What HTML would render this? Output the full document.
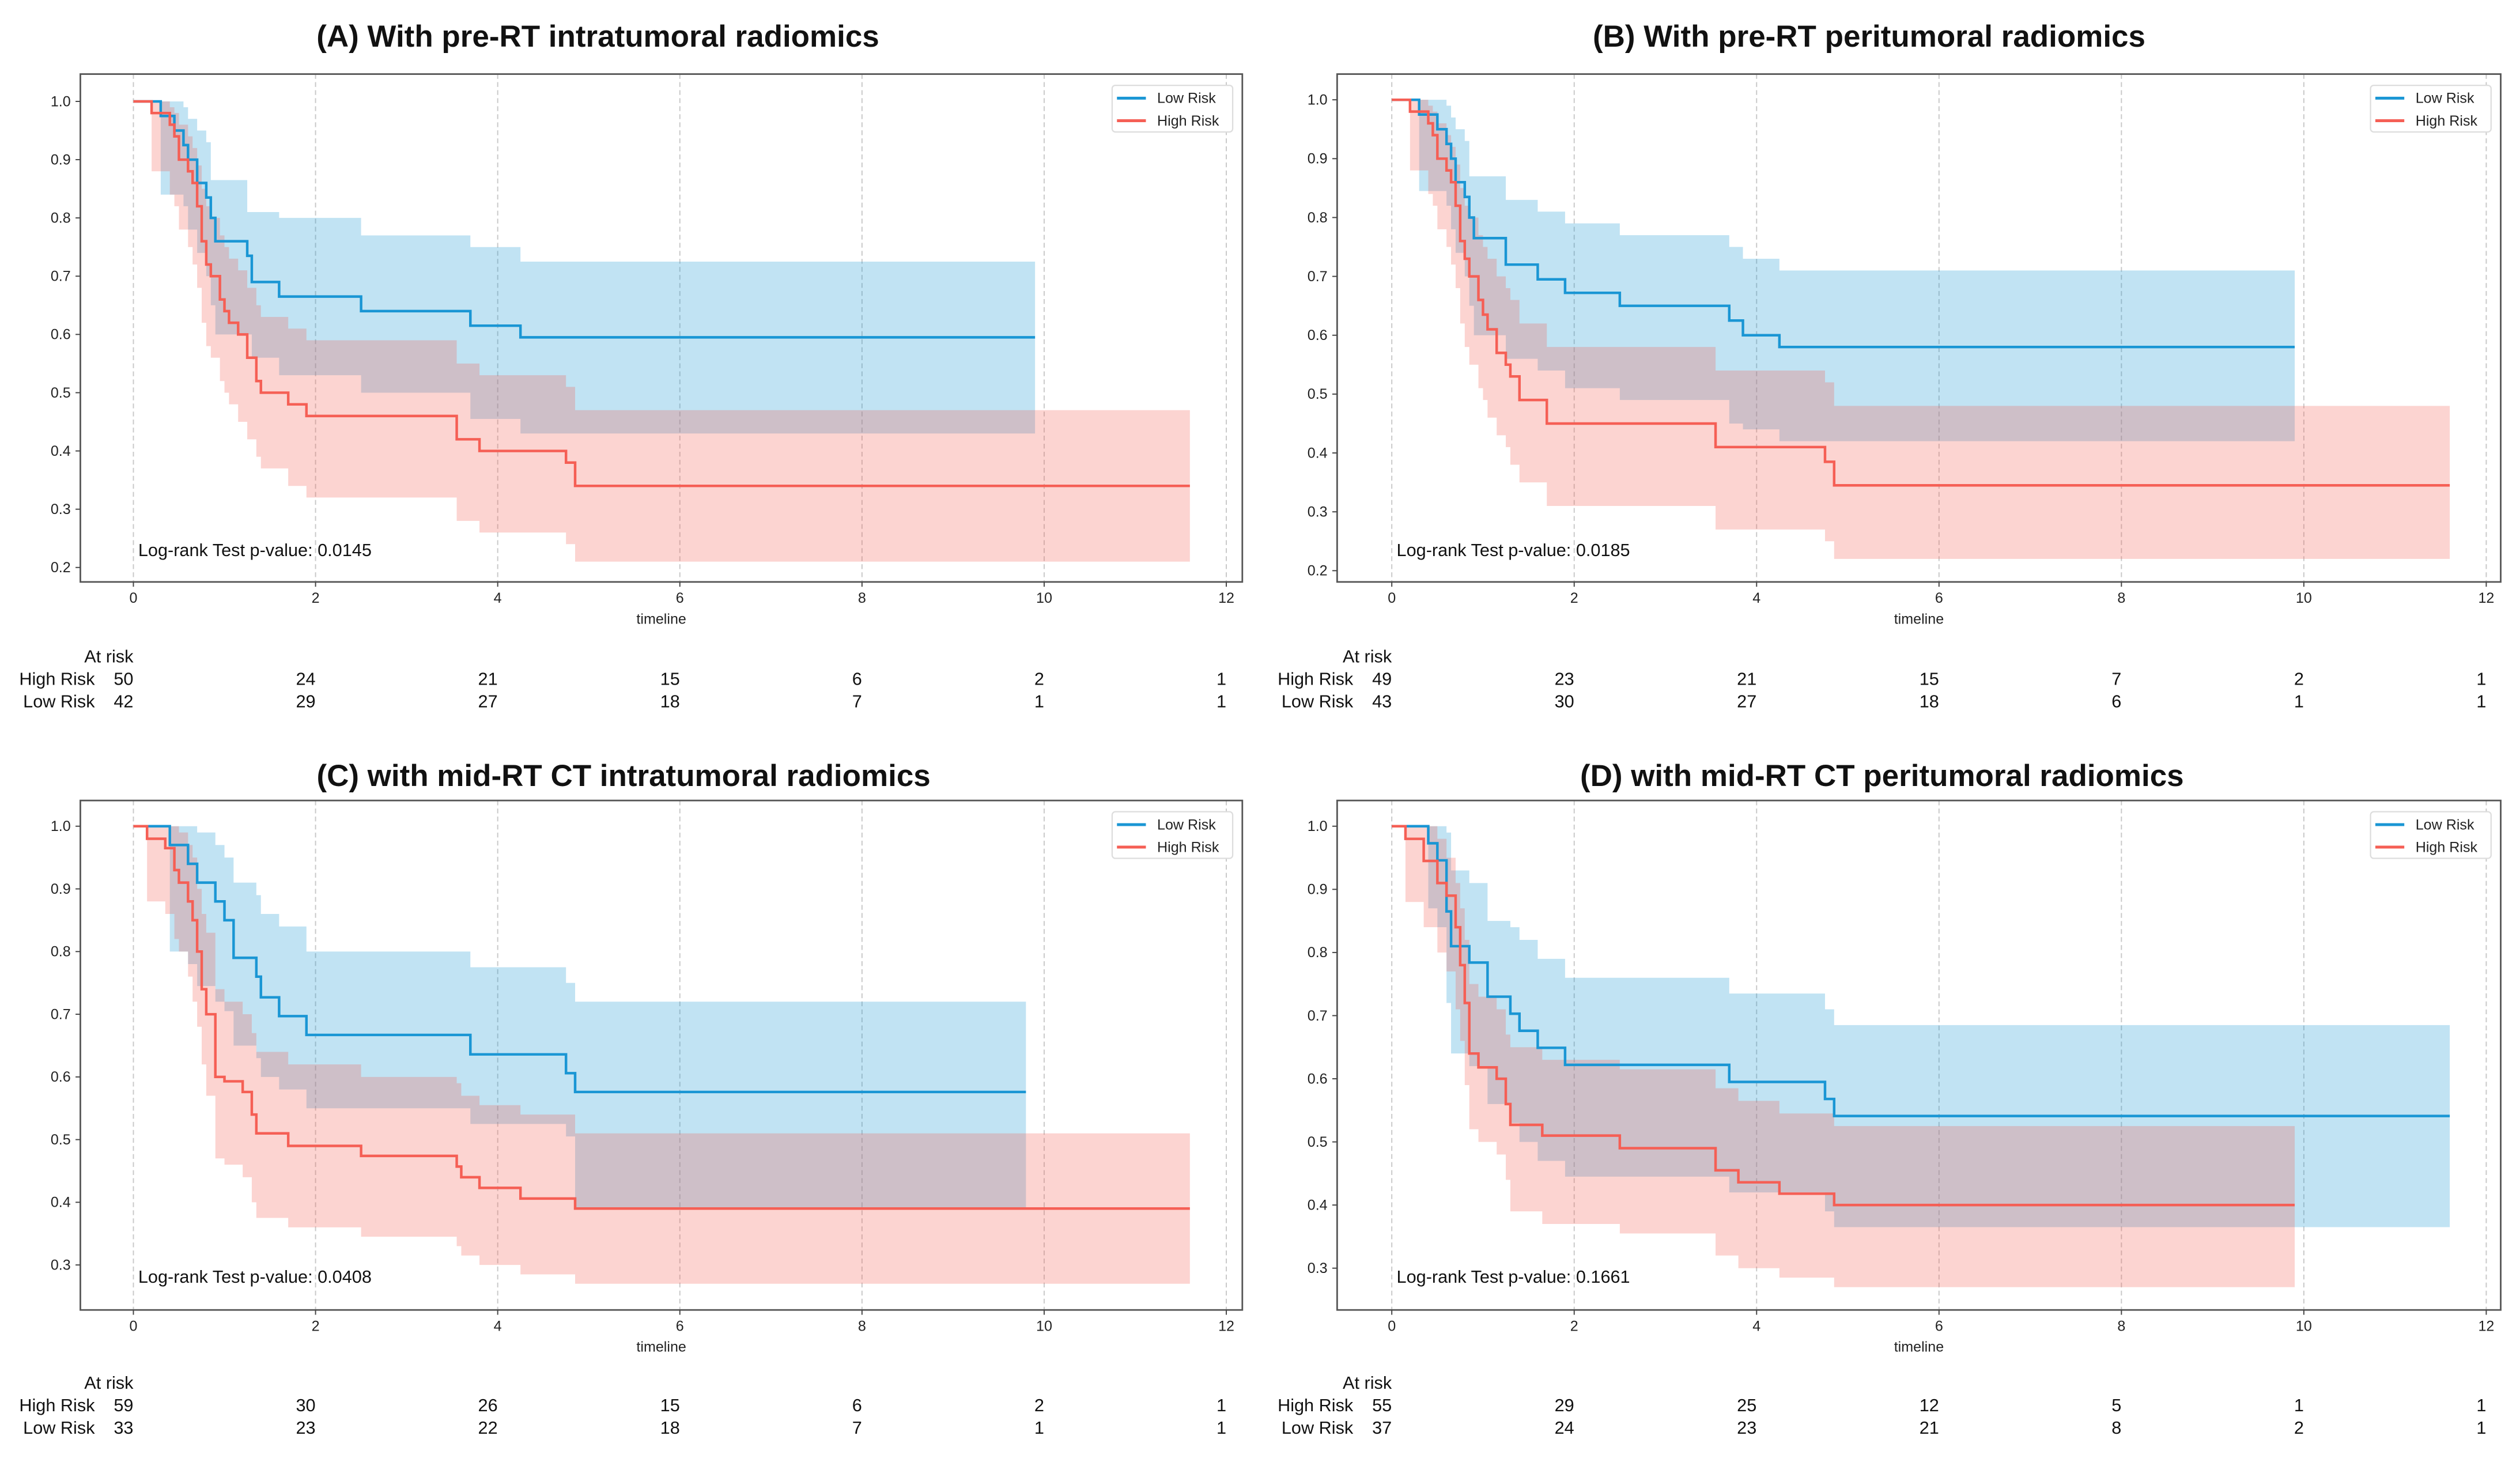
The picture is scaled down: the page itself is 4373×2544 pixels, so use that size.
<!DOCTYPE html>
<html><head><meta charset="utf-8">
<style>
html,body{margin:0;padding:0;background:#fff;}
svg{display:block;}
text{font-family:"Liberation Sans",sans-serif;}
</style></head>
<body>
<svg id="fig" width="4373" height="2544" viewBox="0 0 1568 912" xmlns="http://www.w3.org/2000/svg"></svg>
<script>
// ---------- data ----------
const xTicks = [0,2,4,6,8,10,12];
const yTicksAB = [0.2,0.3,0.4,0.5,0.6,0.7,0.8,0.9,1.0];
const yTicksCD = [0.3,0.4,0.5,0.6,0.7,0.8,0.9,1.0];

const titles = ["(A) With pre-RT intratumoral radiomics","(B) With pre-RT peritumoral radiomics","(C) with mid-RT CT intratumoral radiomics","(D) with mid-RT CT peritumoral radiomics"];
const pvalues = ["0.0145","0.0185","0.0408","0.1661"];
const riskHigh = [[50,24,21,15,6,2,1],[49,23,21,15,7,2,1],[59,30,26,15,6,2,1],[55,29,25,12,5,1,1]];
const riskLow  = [[42,29,27,18,7,1,1],[43,30,27,18,6,1,1],[33,23,22,18,7,1,1],[37,24,23,21,8,2,1]];

// Panel A
const aLowT = [0,0.3,0.45,0.55,0.6,0.7,0.8,0.85,0.9,1.25,1.3,1.6,2.5,3.7,4.25,9.9];
const aLowS = [1,0.975,0.95,0.925,0.9,0.86,0.835,0.8,0.76,0.735,0.69,0.665,0.64,0.615,0.595,0.595];
const aLowU = [1,1,1,0.99,0.97,0.95,0.93,0.865,0.865,0.81,0.81,0.8,0.77,0.75,0.725,0.725];
const aLowL = [1,0.84,0.84,0.82,0.78,0.74,0.70,0.65,0.60,0.60,0.56,0.53,0.50,0.455,0.43,0.43];
const aHighT = [0,0.2,0.4,0.45,0.5,0.6,0.65,0.7,0.75,0.8,0.85,0.95,1.0,1.05,1.15,1.25,1.35,1.4,1.7,1.9,3.55,3.8,4.75,4.85,11.6];
const aHighS = [1,0.98,0.96,0.94,0.9,0.88,0.86,0.82,0.76,0.72,0.7,0.66,0.64,0.62,0.6,0.56,0.52,0.5,0.48,0.46,0.42,0.40,0.38,0.34,0.34];
const aHighU = [1,1,0.99,0.98,0.96,0.94,0.92,0.89,0.85,0.82,0.80,0.77,0.75,0.73,0.71,0.68,0.65,0.63,0.61,0.59,0.55,0.53,0.51,0.47,0.47];
const aHighL = [1,0.88,0.84,0.82,0.78,0.75,0.72,0.68,0.62,0.58,0.56,0.52,0.50,0.48,0.45,0.42,0.39,0.37,0.34,0.32,0.28,0.26,0.24,0.21,0.21];
// Panel B
const bLowT = [0,0.3,0.5,0.6,0.65,0.7,0.8,0.85,0.9,1.25,1.6,1.9,2.5,3.7,3.85,4.25,9.9];
const bLowS = [1,0.975,0.95,0.925,0.9,0.86,0.835,0.8,0.765,0.72,0.695,0.672,0.65,0.625,0.6,0.58,0.58];
const bLowU = [1,1,1,0.99,0.97,0.95,0.93,0.87,0.87,0.83,0.81,0.79,0.77,0.75,0.73,0.71,0.71];
const bLowL = [1,0.845,0.845,0.82,0.78,0.74,0.70,0.65,0.60,0.56,0.54,0.51,0.49,0.45,0.44,0.42,0.42];
const bHighT = [0,0.2,0.4,0.45,0.5,0.6,0.65,0.7,0.75,0.8,0.85,0.95,1.0,1.05,1.15,1.25,1.3,1.4,1.7,3.55,4.75,4.85,11.6];
const bHighS = [1,0.98,0.96,0.94,0.9,0.88,0.86,0.82,0.76,0.73,0.7,0.66,0.635,0.61,0.57,0.55,0.53,0.49,0.45,0.41,0.385,0.345,0.345];
const bHighU = [1,1,0.99,0.98,0.96,0.94,0.92,0.89,0.85,0.82,0.80,0.77,0.75,0.73,0.70,0.68,0.66,0.62,0.58,0.54,0.52,0.48,0.48];
const bHighL = [1,0.88,0.84,0.82,0.78,0.75,0.72,0.68,0.62,0.58,0.55,0.51,0.49,0.46,0.43,0.41,0.38,0.35,0.31,0.27,0.25,0.22,0.22];
// Panel C
const cLowT = [0,0.4,0.6,0.7,0.9,1.0,1.1,1.35,1.4,1.6,1.9,3.7,4.75,4.85,9.8];
const cLowS = [1,0.97,0.94,0.91,0.88,0.85,0.79,0.76,0.727,0.697,0.667,0.636,0.606,0.576,0.576];
const cLowU = [1,1,1,0.99,0.97,0.95,0.91,0.89,0.86,0.84,0.80,0.775,0.75,0.72,0.72];
const cLowL = [1,0.80,0.78,0.745,0.72,0.705,0.65,0.63,0.60,0.58,0.55,0.525,0.505,0.39,0.39];
const cHighT = [0,0.15,0.35,0.45,0.5,0.6,0.65,0.7,0.75,0.8,0.9,1.0,1.2,1.3,1.35,1.7,2.5,3.55,3.6,3.8,4.25,4.85,11.6];
const cHighS = [1,0.98,0.965,0.93,0.91,0.88,0.85,0.8,0.74,0.7,0.6,0.593,0.576,0.54,0.51,0.49,0.474,0.457,0.44,0.423,0.406,0.39,0.39];
const cHighU = [1,1,1,1,0.99,0.97,0.95,0.90,0.86,0.83,0.74,0.72,0.70,0.67,0.64,0.62,0.60,0.59,0.57,0.555,0.54,0.51,0.51];
const cHighL = [1,0.88,0.86,0.82,0.80,0.76,0.72,0.68,0.62,0.57,0.47,0.46,0.44,0.40,0.375,0.36,0.345,0.33,0.315,0.30,0.285,0.27,0.27];
// Panel D
const dLowT = [0,0.4,0.5,0.6,0.65,0.85,1.05,1.3,1.4,1.6,1.9,3.7,4.75,4.85,11.6];
const dLowS = [1,0.973,0.946,0.865,0.81,0.784,0.73,0.703,0.676,0.649,0.622,0.595,0.568,0.541,0.541];
const dLowU = [1,1,1,0.99,0.93,0.91,0.85,0.84,0.82,0.79,0.76,0.735,0.71,0.685,0.685];
const dLowL = [1,0.87,0.84,0.72,0.64,0.62,0.56,0.53,0.50,0.47,0.445,0.42,0.39,0.365,0.365];
const dHighT = [0,0.15,0.35,0.5,0.6,0.7,0.75,0.8,0.85,0.95,1.15,1.25,1.3,1.65,2.5,3.55,3.8,4.25,4.85,9.9];
const dHighS = [1,0.98,0.945,0.91,0.89,0.84,0.78,0.72,0.64,0.618,0.6,0.56,0.527,0.51,0.49,0.455,0.436,0.418,0.4,0.4];
const dHighU = [1,1,1,0.98,0.95,0.91,0.87,0.82,0.75,0.73,0.71,0.67,0.65,0.63,0.615,0.585,0.565,0.545,0.525,0.525];
const dHighL = [1,0.88,0.84,0.80,0.77,0.71,0.66,0.59,0.52,0.50,0.48,0.44,0.39,0.37,0.355,0.32,0.30,0.285,0.27,0.27];

const series = [
  [[aLowT,aLowS,aLowU,aLowL],[aHighT,aHighS,aHighU,aHighL]],
  [[bLowT,bLowS,bLowU,bLowL],[bHighT,bHighS,bHighU,bHighL]],
  [[cLowT,cLowS,cLowU,cLowL],[cHighT,cHighS,cHighU,cHighL]],
  [[dLowT,dLowS,dLowU,dLowL],[dHighT,dHighS,dHighU,dHighL]]
];

// ---------- layout ----------
const NS="http://www.w3.org/2000/svg";
const svg=document.getElementById('fig');
function el(tag,attrs,parent){const e=document.createElementNS(NS,tag);for(const k in attrs)e.setAttribute(k,attrs[k]);(parent||svg).appendChild(e);return e;}

const panels=[
 {bx:50,by:46,bw:723,bh:316,x0:83,xs:56.67,yTop:63,yTopV:1.0,yBot:353,yBotV:0.2,yt:yTicksAB,tx:372,ty:29,ar:412,pvY:346},
 {bx:832,by:46,bw:724,bh:316,x0:866,xs:56.75,yTop:62,yTopV:1.0,yBot:355,yBotV:0.2,yt:yTicksAB,tx:1163,ty:29,ar:412,pvY:346},
 {bx:50,by:498,bw:723,bh:317,x0:83,xs:56.67,yTop:514,yTopV:1.0,yBot:787,yBotV:0.3,yt:yTicksCD,tx:388,ty:489,ar:864,pvY:798},
 {bx:832,by:498,bw:724,bh:317,x0:866,xs:56.75,yTop:514,yTopV:1.0,yBot:789,yBotV:0.3,yt:yTicksCD,tx:1171,ty:489,ar:864,pvY:798}
];
const colors=["#1a96d4","#f55f55"];

panels.forEach((p,i)=>{
  const g=el('g',{});
  
  
  const X=t=>p.x0+t*p.xs;
  const Y=v=>p.yBot+(v-p.yBotV)*(p.yTop-p.yBot)/(p.yTopV-p.yBotV);

  const title=el('text',{x:p.tx,y:p.ty,'text-anchor':'middle','font-size':19,'font-weight':'bold',fill:'#111'},g);
  title.textContent=titles[i];
  
  

  xTicks.forEach(t=>{
    const gl=el('line',{x1:X(t),x2:X(t),y1:p.by,y2:p.by+p.bh,stroke:'#c8c8c8','stroke-width':0.7,'stroke-dasharray':'3,2'},g);
    
    
  });

  series[i].forEach((s,k)=>{
    const [T,S,U,L]=s;
    let up='',lo=[];
    for(let j=0;j<T.length;j++){
      const xa=X(T[j]), xb=X(j<T.length-1?T[j+1]:T[j]);
      up+=(j===0?'M':'L')+xa+','+Y(U[j])+' L'+xb+','+Y(U[j])+' ';
      lo.push(xb+','+Y(L[j])+' L'+xa+','+Y(L[j]));
    }
    const band=el('path',{d:up+'L'+lo.reverse().join(' L')+' Z',fill:colors[k],'fill-opacity':0.27,stroke:'none'},g);
    
    
  });
  series[i].forEach((s,k)=>{
    const [T,S]=s;
    let d='';
    for(let j=0;j<T.length;j++){
      const xa=X(T[j]), xb=X(j<T.length-1?T[j+1]:T[j]);
      d+=(j===0?'M':'L')+xa+','+Y(S[j])+' L'+xb+','+Y(S[j])+' ';
    }
    const ln=el('path',{d:d,fill:'none',stroke:colors[k],'stroke-width':1.6},g);
    
    
  });

  const fr=el('rect',{x:p.bx,y:p.by,width:p.bw,height:p.bh,fill:'none',stroke:'#555','stroke-width':1},g);
  
  

  xTicks.forEach(t=>{
    el('line',{x1:X(t),x2:X(t),y1:p.by+p.bh,y2:p.by+p.bh+3,stroke:'#444','stroke-width':0.7},g);
    const tl=el('text',{x:X(t),y:p.by+p.bh+13,'text-anchor':'middle','font-size':9,fill:'#222'},g);
    tl.textContent=t;
    
    
  });
  p.yt.forEach(v=>{
    el('line',{x1:p.bx-3,x2:p.bx,y1:Y(v),y2:Y(v),stroke:'#444','stroke-width':0.7},g);
    const tl=el('text',{x:p.bx-6,y:Y(v)+3,'text-anchor':'end','font-size':9,fill:'#222'},g);
    tl.textContent=v.toFixed(1);
    
    
  });
  const xl=el('text',{x:p.bx+p.bw/2,y:p.by+p.bh+26,'text-anchor':'middle','font-size':9,fill:'#222'},g);
  xl.textContent='timeline';
  
  

  const pv=el('text',{x:X(0)+3,y:p.pvY,'font-size':11,fill:'#111'},g);
  pv.textContent='Log-rank Test p-value: '+pvalues[i];
  
  

  const lx=p.bx+p.bw-81, ly=p.by+7;
  const lg=el('g',{},g);
  
  
  el('rect',{x:lx,y:ly,width:75,height:29,fill:'#fff',stroke:'#ddd','stroke-width':0.8,rx:2},lg);
  ['Low Risk','High Risk'].forEach((nm,k)=>{
    const yy=ly+8+k*14;
    el('line',{x1:lx+3,x2:lx+21,y1:yy,y2:yy,stroke:colors[k],'stroke-width':1.8},lg);
    const t=el('text',{x:lx+28,y:yy+3,'font-size':9,fill:'#222'},lg);
    t.textContent=nm;
    
    
  });

  const at=el('text',{x:X(0),y:p.ar,'text-anchor':'end','font-size':11,fill:'#111'},g);
  at.textContent='At risk';
  
  
  [['High Risk',riskHigh[i]],['Low Risk',riskLow[i]]].forEach((r,k)=>{
    const yy=p.ar+14*(k+1);
    const lb=el('text',{x:X(0)-24,y:yy,'text-anchor':'end','font-size':11,fill:'#111'},g);
    lb.textContent=r[0];
    
    
    r[1].forEach((n,j)=>{
      const c=el('text',{x:X(xTicks[j]),y:yy,'text-anchor':'end','font-size':11,fill:'#111'},g);
      c.textContent=n;
      
      
    });
  });
});
</script>
</body></html>
